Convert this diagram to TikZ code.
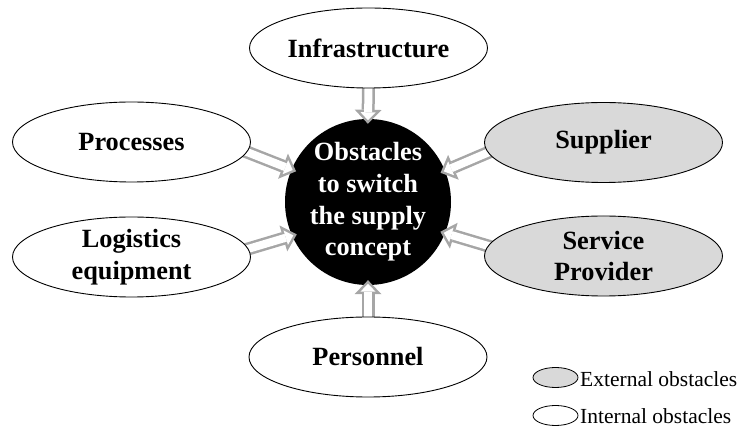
\documentclass[tikz,border=0pt]{standalone}
\usepackage{fontspec}
\setmainfont{Liberation Serif}
\usetikzlibrary{shapes.geometric,arrows.meta}
\definecolor{arrowgray}{gray}{0.65}
\definecolor{extgray}{gray}{0.85}
\pgfdeclarelayer{bg}
\pgfsetlayers{bg,main}
\begin{document}
\begin{tikzpicture}[x=1pt,y=-1pt,
  obst/.style={ellipse, draw=black, line width=0.9pt, minimum width=238pt, minimum height=80pt,
    inner sep=0pt, align=center, font=\bfseries\fontsize{26.3}{31.5}\selectfont},
  internal/.style={obst, fill=white},
  external/.style={obst, fill=extgray},
  hub/.style={circle, fill=black, minimum size=166pt, inner sep=0pt, text=white, align=center,
    font=\bfseries\fontsize{26.3}{31.6}\selectfont},
  arrowout/.style={draw=arrowgray, line width=13pt,
    -{Triangle[length=14pt,width=27pt,line width=0pt]}, shorten <=-8pt, shorten >=-5pt},
  arrowin/.style={draw=white, line width=8pt,
    -{Triangle[length=7.9pt,width=15.2pt,line width=0pt]}, shorten <=-9pt, shorten >=-1.4pt},
  legendmark/.style={ellipse, draw=black, line width=0.8pt, minimum width=45pt, minimum height=20pt, inner sep=0pt},
  legendtext/.style={anchor=base west, inner sep=0pt, font=\fontsize{21.5}{25}\selectfont}]
\useasboundingbox (0,0) rectangle (737,427);

\begin{pgfonlayer}{bg}
  \node[hub] (c) at (368,202) {Obstacles\\to switch\\the supply\\concept};
\end{pgfonlayer}

\node[internal] (infra) at (368.5,48) {Infrastructure};
\node[internal] (proc)  at (131.5,142) {Processes};
\node[internal] (logi)  at (131.5,257) {Logistics\\equipment};
\node[external] (sup)   at (603.5,142.5) {Supplier};
\node[external] (serv)  at (603.5,256) {Service\\Provider};
\node[internal] (pers)  at (368,357) {Personnel};

\begin{pgfonlayer}{bg}
  \draw[arrowout] (infra.south) -- (c.north);
  \draw[arrowin]  (infra.south) -- (c.north);
  \draw[arrowout] (pers.north) -- (c.south);
  \draw[arrowin]  (pers.north) -- (c.south);
  \draw[arrowout] (proc.-5) -- (c.157);
  \draw[arrowin]  (proc.-5) -- (c.157);
  \draw[arrowout] (logi.4.4) -- (c.204.8);
  \draw[arrowin]  (logi.4.4) -- (c.204.8);
  \draw[arrowout] (sup.185.2) -- (c.22.5);
  \draw[arrowin]  (sup.185.2) -- (c.22.5);
  \draw[arrowout] (serv.175.6) -- (c.-22.6);
  \draw[arrowin]  (serv.175.6) -- (c.-22.6);
\end{pgfonlayer}

\node[legendmark, fill=extgray] (extmark) at (555.5,377.5) {};
\node[legendtext] (extlbl) at (580,386.5) {External obstacles};
\node[legendmark, fill=white] (intmark) at (555.5,415.5) {};
\node[legendtext] (intlbl) at (580,423.5) {Internal obstacles};
\end{tikzpicture}
\end{document}
